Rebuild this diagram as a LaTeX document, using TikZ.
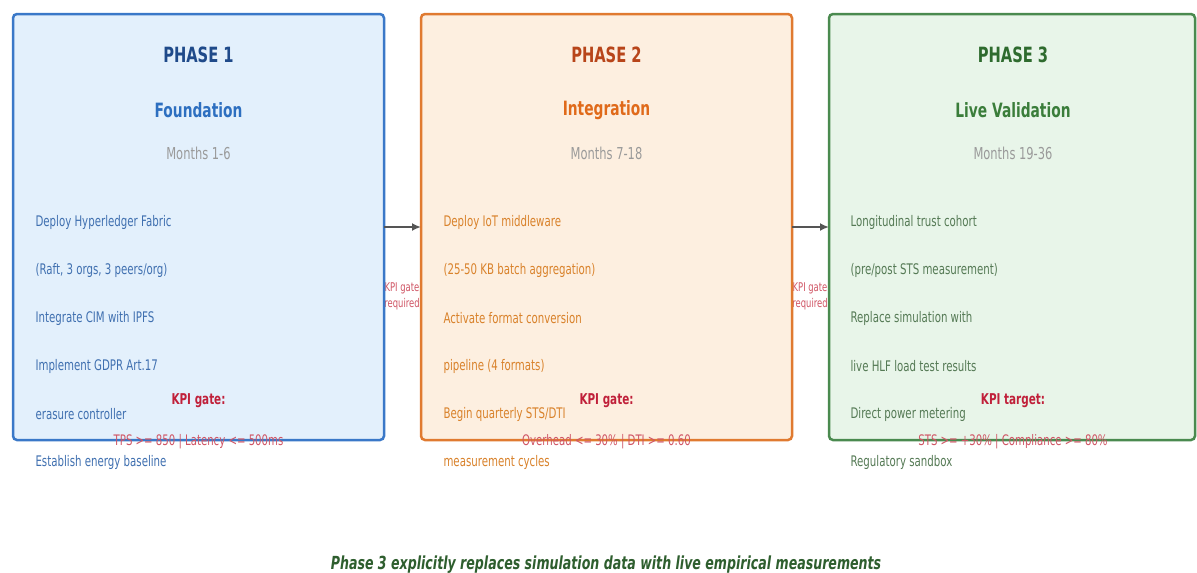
\documentclass[tikz,border=0pt]{standalone}
\usepackage{fontspec}
\setmainfont[FakeStretch=0.7]{DejaVu Sans}
\usetikzlibrary{arrows.meta}
\definecolor{bAfill}{HTML}{E3F0FC}\definecolor{bAline}{HTML}{3A78C8}
\definecolor{bBfill}{HTML}{FDEFE0}\definecolor{bBline}{HTML}{E07A30}
\definecolor{bCfill}{HTML}{E8F5E9}\definecolor{bCline}{HTML}{4A8A4F}
\definecolor{tA}{HTML}{1F4A8A}\definecolor{sA}{HTML}{2D6FC0}\definecolor{iA}{HTML}{4070B0}
\definecolor{tB}{HTML}{B8451A}\definecolor{sB}{HTML}{E06A1A}\definecolor{iB}{HTML}{D9822B}
\definecolor{tC}{HTML}{2E6B2E}\definecolor{sC}{HTML}{3A7D3A}\definecolor{iC}{HTML}{557A55}
\definecolor{kpi}{HTML}{C0203A}\definecolor{kpiv}{HTML}{D05565}
\definecolor{monthc}{HTML}{9A9A9A}\definecolor{arr}{HTML}{555555}
\definecolor{capc}{HTML}{2E5E2E}
\tikzset{
  phasebox/.style={draw, line width=2.5pt, rounded corners=4pt},
  ptitle/.style={font=\fontsize{21}{24}\selectfont\bfseries, anchor=center},
  psub/.style={font=\fontsize{19.7}{23}\selectfont\bfseries, anchor=center},
  pmonth/.style={font=\fontsize{16.4}{19}\selectfont, text=monthc, anchor=center},
  item/.style={font=\fontsize{14.6}{17}\selectfont, anchor=west},
  kpihead/.style={font=\fontsize{14.9}{17}\selectfont\bfseries, text=kpi, anchor=center},
  kpival/.style={font=\fontsize{14.5}{17}\selectfont, text=kpiv, anchor=center},
  gatelbl/.style={font=\fontsize{12}{16}\selectfont, text=kpiv, align=center, anchor=center},
  flow/.style={draw=arr, line width=2.5pt, -{Latex[length=9pt,width=8pt]}},
}
\begin{document}
\begin{tikzpicture}[x=1pt,y=-1pt]
\useasboundingbox[fill=white] (0,0) rectangle (1197,573);
% gate labels (partly covered by boxes)
\node[gatelbl] (g1) at (402,296) {KPI gate\\required};
\node[gatelbl] (g2) at (810,296) {KPI gate\\required};
% boxes
\draw[phasebox, fill=bAfill, draw=bAline] (13,14) rectangle (384,440);
\draw[phasebox, fill=bBfill, draw=bBline] (421,14) rectangle (792,440);
\draw[phasebox, fill=bCfill, draw=bCline] (829,14) rectangle (1195,440);
\coordinate (b1r) at (384,227);
\coordinate (b2l) at (421,227);
\coordinate (b2r) at (792,227);
\coordinate (b3l) at (829,227);
\draw[flow] (b1r) -- (b2l);
\draw[flow] (b2r) -- (b3l);
% phase 1
\node[ptitle, text=tA] (p1t) at (198.5,55) {PHASE 1};
\node[psub, text=sA] (p1s) at (198.5,110) {Foundation};
\node[pmonth] (p1m) at (198.5,153) {Months 1-6};
\node[item, text=iA] (a1) at (32,222) {Deploy Hyperledger Fabric};
\node[item, text=iA] (a2) at (32,270) {(Raft, 3 orgs, 3 peers/org)};
\node[item, text=iA] (a3) at (32,318) {Integrate CIM with IPFS};
\node[item, text=iA] (a4) at (32,366) {Implement GDPR Art.17};
\node[item, text=iA] (a5) at (32,414) {erasure controller};
\node[item, text=iA] (a6) at (32,462) {Establish energy baseline};
\node[kpihead] (k1) at (198.5,401) {KPI gate:};
\node[kpival] (v1) at (198.5,442) {TPS >= 850 | Latency <= 500ms};
% phase 2
\node[ptitle, text=tB] (p2t) at (606.5,55) {PHASE 2};
\node[psub, text=sB] (p2s) at (606.5,110) {Integration};
\node[pmonth] (p2m) at (606.5,153) {Months 7-18};
\node[item, text=iB] (c1) at (440,222) {Deploy IoT middleware};
\node[item, text=iB] (c2) at (440,270) {(25-50 KB batch aggregation)};
\node[item, text=iB] (c3) at (440,318) {Activate format conversion};
\node[item, text=iB] (c4) at (440,366) {pipeline (4 formats)};
\node[item, text=iB] (c5) at (440,414) {Begin quarterly STS/DTI};
\node[item, text=iB] (c6) at (440,462) {measurement cycles};
\node[kpihead] (k2) at (606.5,401) {KPI gate:};
\node[kpival] (v2) at (606.5,442) {Overhead <= 30\% | DTI >= 0.60};
% phase 3
\node[ptitle, text=tC] (p3t) at (1013,55) {PHASE 3};
\node[psub, text=sC] (p3s) at (1013,110) {Live Validation};
\node[pmonth] (p3m) at (1013,153) {Months 19-36};
\node[item, text=iC] (d1) at (847,222) {Longitudinal trust cohort};
\node[item, text=iC] (d2) at (847,270) {(pre/post STS measurement)};
\node[item, text=iC] (d3) at (847,318) {Replace simulation with};
\node[item, text=iC] (d4) at (847,366) {live HLF load test results};
\node[item, text=iC] (d5) at (847,414) {Direct power metering};
\node[item, text=iC] (d6) at (847,462) {Regulatory sandbox};
\node[kpihead] (k3) at (1013,401) {KPI target:};
\node[kpival] (v3) at (1013,442) {STS >= +30\% | Compliance >= 80\%};
% caption
\node[font=\fontsize{18}{21}\selectfont\bfseries\itshape, text=capc] (cap) at (606,565) {Phase 3 explicitly replaces simulation data with live empirical measurements};
\end{tikzpicture}
\end{document}
